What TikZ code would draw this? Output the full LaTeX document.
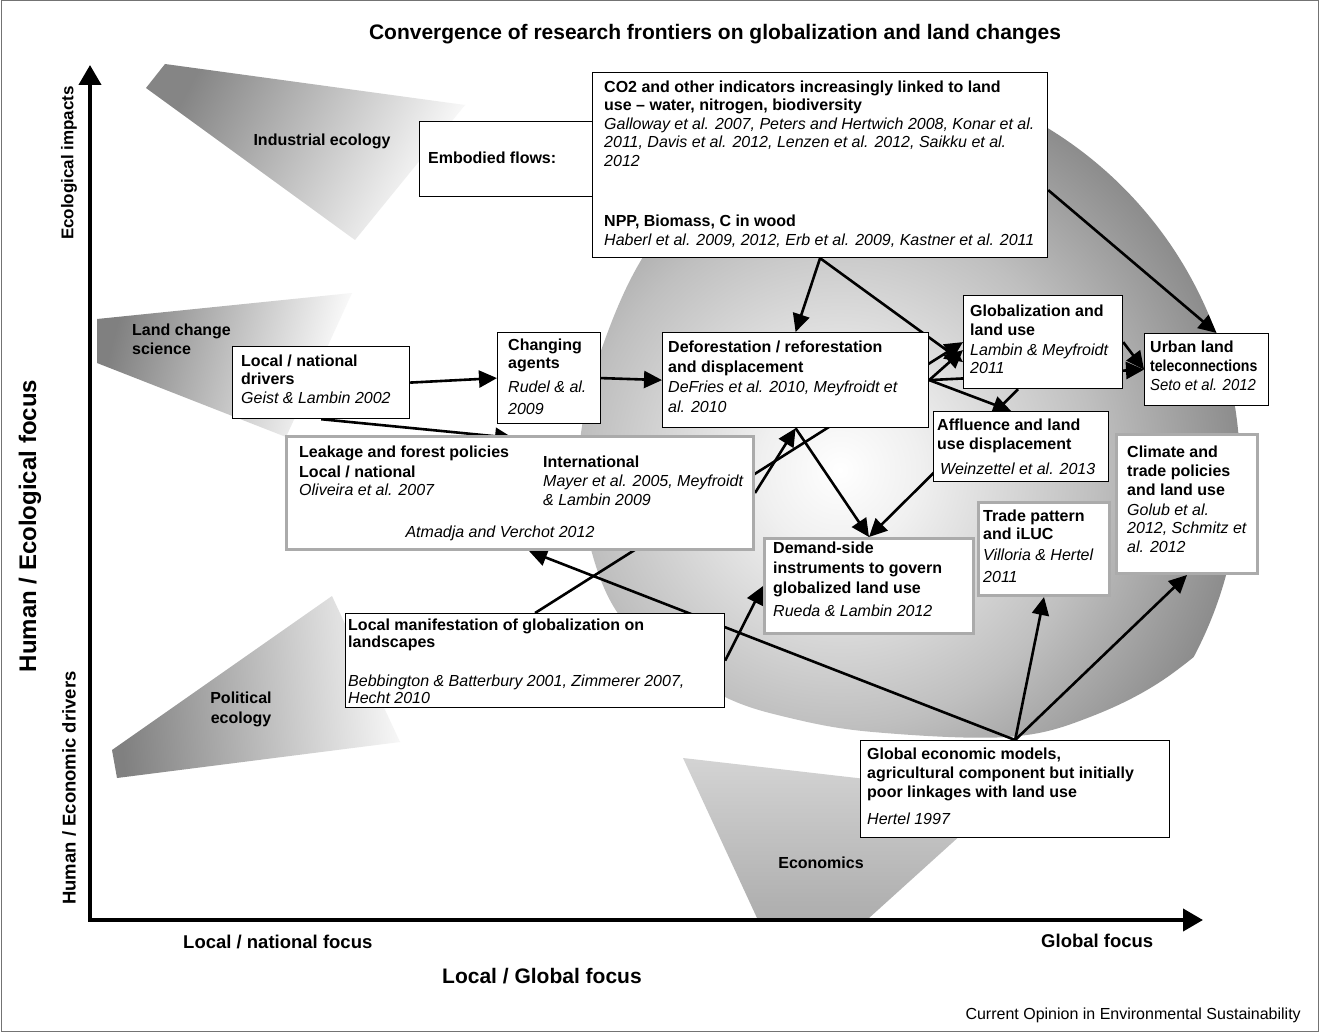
\documentclass[tikz,border=0pt]{standalone}
\usepackage{fontspec}
\setmainfont{Liberation Sans}
\usetikzlibrary{arrows.meta,calc}
\pgfdeclarelayer{back}
\pgfdeclarelayer{arr}
\pgfsetlayers{back,arr,main}
\pgfdeclareradialshading{diskshade}{\pgfpoint{0bp}{0bp}}{color(0bp)=(white); color(5bp)=(white!94!black); color(16bp)=(black!25); color(25bp)=(black!45); color(50bp)=(black!45)}
\tikzset{
 bbox/.style={draw=black, line width=1.2pt, fill=white, rectangle, inner sep=0pt, anchor=north west},
 gbox/.style={draw=black!33, line width=3pt, fill=white, rectangle, inner sep=0pt, anchor=north west},
 hd/.style={font=\fontsize{16}{19}\selectfont\bfseries, inner sep=0pt, anchor=base west},
 ct/.style={font=\fontsize{16}{19}\selectfont\itshape, inner sep=0pt, anchor=base west},
 lab/.style={font=\fontsize{16}{19}\selectfont\bfseries, inner sep=0pt, anchor=base},
 link/.style={line width=2.6pt, -{Triangle[length=18pt,width=17pt]}},
 axisline/.style={line width=4pt, {Triangle[length=20pt,width=22pt]}-{Triangle[length=20pt,width=22pt]}},
}
\begin{document}
\begin{tikzpicture}[x=1pt,y=-1pt]
\useasboundingbox (0,0) rectangle (1319,1032);
\begin{pgfonlayer}{back}
\fill[white] (0,0) rectangle (1319,1032);
% big disk
\begin{scope}
\clip plot[smooth cycle, tension=0.6] coordinates {(945,85) (1047,100) (1160,155) (1240,240) (1290,330) (1307,420) (1292,510) (1250,600) (1173,673) (1090,717) (1007,737) (873,732) (790,718) (725,697) (660,655) (617,612) (592,553) (580,480) (583,420) (603,345) (640,262) (700,180) (800,115)};
\shade[shading=diskshade] (840,470) circle (400pt);
\end{scope}
% fans
\shade[top color=black!48, bottom color=white, shading angle=62] (146,88) -- (165,64) -- (465,105) -- (355,240) -- cycle;
\shade[top color=black!50, bottom color=white, shading angle=75] (97,319) -- (352,293) -- (286,437) -- (97,363) -- cycle;
\shade[top color=black!50, bottom color=white!97!black, shading angle=95] (112,750) -- (332,596) -- (400,742) -- (117,778) -- cycle;
\shade[top color=black!17, bottom color=black!32] (683,758) -- (1005,795) -- (869,918) -- (757,918) -- cycle;
\end{pgfonlayer}

\draw[black!55, line width=1pt] (1,1) rectangle (1318,1031);

% title
\node[font=\fontsize{21}{25}\selectfont\bfseries, inner sep=0pt, anchor=base] (title) at (715,40) {Convergence of research frontiers on globalization and land changes};

% axes
\coordinate (origin) at (90,920);
\coordinate (ytip) at (90,65);
\coordinate (xtip) at (1203,920);
\draw[axisline] (ytip) -- (origin) -- (xtip);

\node[font=\fontsize{17}{20}\selectfont\bfseries, inner sep=0pt, rotate=90] (ecoimp) at (69,163) {Ecological impacts};
\node[font=\fontsize{24}{28}\selectfont\bfseries, inner sep=0pt, rotate=90] (hefocus) at (30,526) {Human / Ecological focus};
\node[font=\fontsize{18.5}{22}\selectfont\bfseries, inner sep=0pt, rotate=90] (hedrv) at (69,788) {Human / Economic drivers};
\node[font=\fontsize{18.5}{22}\selectfont\bfseries, inner sep=0pt, anchor=base west] (locfoc) at (183,948) {Local / national focus};
\node[font=\fontsize{18.5}{22}\selectfont\bfseries, inner sep=0pt, anchor=base west] (globfoc) at (1041,947) {Global focus};
\node[font=\fontsize{21}{24}\selectfont\bfseries, inner sep=0pt, anchor=base west] (lgfoc) at (442,983) {Local / Global focus};
\node[font=\fontsize{16}{18}\selectfont, inner sep=0pt, anchor=base east] (journal) at (1301,1019) {Current Opinion in Environmental Sustainability};

% fan labels
\node[lab] (indeco) at (322,146) {Industrial ecology};
\node[hd] (lcs1) at (132,335) {Land change};
\node[hd] (lcs2) at (132,354) {science};
\node[lab] (pol1) at (241,703) {Political};
\node[lab] (pol2) at (241,723) {ecology};
\node[lab] (econ) at (821,868) {Economics};

% boxes
\node[bbox, minimum width=181pt, minimum height=75pt] (emb) at (419,121) {};
\node[hd] (embt) at (428,164) {Embodied flows:};
\node[bbox, minimum width=455pt, minimum height=185pt] (co2) at (592,72) {};
\node[hd] (co2a) at (604,93) {CO2 and other indicators increasingly linked to land};
\node[hd] (co2b) at (604,111) {use – water, nitrogen, biodiversity};
\node[ct] (co2c) at (604,130) {Galloway et al. 2007, Peters and Hertwich 2008, Konar et al.};
\node[ct] (co2d) at (604,148) {2011, Davis et al. 2012, Lenzen et al. 2012, Saikku et al.};
\node[ct] (co2e) at (604,167) {2012};
\node[hd] (co2f) at (604,227) {NPP, Biomass, C in wood};
\node[ct] (co2g) at (604,246) {Haberl et al. 2009, 2012, Erb et al. 2009, Kastner et al. 2011};

\node[bbox, minimum width=177pt, minimum height=72pt] (drv) at (232,346) {};
\node[hd] (drva) at (241,366) {Local / national};
\node[hd] (drvb) at (241,384) {drivers};
\node[ct] (drvc) at (241,403) {Geist \& Lambin 2002};

\node[bbox, minimum width=103pt, minimum height=91pt] (agt) at (497,332) {};
\node[hd] (agta) at (508,350) {Changing};
\node[hd] (agtb) at (508,368) {agents};
\node[ct] (agtc) at (508,392) {Rudel \& al.};
\node[ct] (agtd) at (508,414) {2009};

\node[bbox, minimum width=266pt, minimum height=95pt] (def) at (662,332) {};
\node[hd] (defa) at (668,352) {Deforestation / reforestation};
\node[hd] (defb) at (668,372) {and displacement};
\node[ct] (defc) at (668,392) {DeFries et al. 2010, Meyfroidt et};
\node[ct] (defd) at (668,412) {al. 2010};

\node[bbox, minimum width=159pt, minimum height=93pt] (glb) at (963,295) {};
\node[hd] (glba) at (970,316) {Globalization and};
\node[hd] (glbb) at (970,335) {land use};
\node[ct] (glbc) at (970,355) {Lambin \& Meyfroidt};
\node[ct] (glbd) at (970,373) {2011};

\node[bbox, minimum width=124pt, minimum height=72pt] (urb) at (1144,333) {};
\node[hd] (urba) at (1150,352) {Urban land};
\node[hd] (urbb) at (1150,371) {\scalebox{0.88}[1]{teleconnections}};
\node[ct] (urbc) at (1150,390) {\scalebox{0.93}[1]{Seto et al. 2012}};

\node[bbox, minimum width=175pt, minimum height=70pt] (aff) at (933,411) {};
\node[hd] (affa) at (937,430) {Affluence and land};
\node[hd] (affb) at (937,449) {use displacement};
\node[ct] (affc) at (940,474) {Weinzettel et al. 2013};

\node[gbox, minimum width=467pt, minimum height=113pt] (lkg) at (285,435) {};
\node[hd] (lkga) at (299,457) {Leakage and forest policies};
\node[hd] (lkgb) at (299,477) {Local / national};
\node[ct] (lkgc) at (299,495) {Oliveira et al. 2007};
\node[hd] (lkgd) at (543,467) {International};
\node[ct] (lkge) at (543,486) {Mayer et al. 2005, Meyfroidt};
\node[ct] (lkgf) at (543,505) {\& Lambin 2009};
\node[ct, anchor=base] (lkgg) at (500,537) {Atmadja and Verchot 2012};

\node[gbox, minimum width=209pt, minimum height=95pt] (dem) at (763,537) {};
\node[hd] (dema) at (773,553) {Demand-side};
\node[hd] (demb) at (773,573) {instruments to govern};
\node[hd] (demc) at (773,593) {globalized land use};
\node[ct] (demd) at (773,616) {Rueda \& Lambin 2012};

\node[gbox, minimum width=131pt, minimum height=93pt] (trd) at (977,501) {};
\node[hd] (trda) at (983,521) {Trade pattern};
\node[hd] (trdb) at (983,539) {and iLUC};
\node[ct] (trdc) at (983,560) {Villoria \& Hertel};
\node[ct] (trdd) at (983,582) {2011};

\node[gbox, minimum width=141pt, minimum height=139pt] (clm) at (1115,433) {};
\node[hd] (clma) at (1127,457) {Climate and};
\node[hd] (clmb) at (1127,476) {trade policies};
\node[hd] (clmc) at (1127,495) {and land use};
\node[ct] (clmd) at (1127,515) {Golub et al.};
\node[ct] (clme) at (1127,533) {2012, Schmitz et};
\node[ct] (clmf) at (1127,552) {al. 2012};

\node[bbox, minimum width=379pt, minimum height=94pt] (loc) at (345,613) {};
\node[hd] (loca) at (348,630) {Local manifestation of globalization on};
\node[hd] (locb) at (348,647) {landscapes};
\node[ct] (locc) at (348,686) {Bebbington \& Batterbury 2001, Zimmerer 2007,};
\node[ct] (locd) at (348,703) {Hecht 2010};

\node[bbox, minimum width=309pt, minimum height=97pt] (glo) at (860,740) {};
\node[hd] (gloa) at (867,759) {Global economic models,};
\node[hd] (glob) at (867,778) {agricultural component but initially};
\node[hd] (gloc) at (867,797) {poor linkages with land use};
\node[ct] (glod) at (867,824) {Hertel 1997};

% connectors (behind boxes)
\coordinate (lktip) at (513,438);
\begin{pgfonlayer}{arr}
\draw[link] (drv.east) -- (agt.west);
\draw[link] (agt.east) -- (def.west);
\draw[link] (drv.south) -- (lktip);
\draw[link] (co2.south) -- (def.north);
\draw[link] (co2.south) -- ([yshift=-20pt]glb.west);
\draw[link] ([yshift=-25pt]co2.east) -- ([xshift=10pt]urb.north);
\draw[link] (lkg.east) -- (def.south);
\draw[link] (loc.north) -- (glb.west);
\draw[link] (def.east) -- ([yshift=-8pt]glb.west);
\draw[link] (def.east) -- (urb.west);
\draw[link] (glb.east) -- (urb.west);
\draw[link] (def.east) -- ([xshift=-10pt]aff.north);
\draw[link] ([xshift=-25pt]glb.south) -- (dem.north);
\draw[link] (def.south) -- (dem.north);
\draw[link] (loc.east) -- (dem.west);
\draw[link] (glo.north) -- ([xshift=9pt]lkg.south);
\draw[link] (glo.north) -- (trd.south);
\draw[link] (glo.north) -- (clm.south);
\end{pgfonlayer}
\end{tikzpicture}
\end{document}
